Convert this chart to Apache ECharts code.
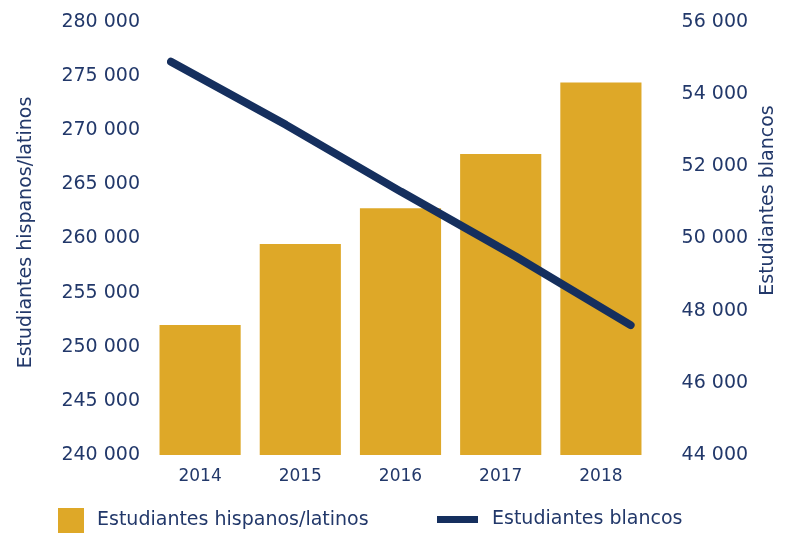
<!DOCTYPE html>
<html>
<head>
<meta charset="utf-8">
<script src="https://cdn.jsdelivr.net/npm/echarts@6/dist/echarts.min.js"></script>
<style>
  html, body { margin: 0; padding: 0; background: #fff; }
  #chart { width: 786px; height: 533px; }
</style>
</head>
<body>
<div id="chart"></div>
<script>
const years = ["2014", "2015", "2016", "2017", "2018"];
const hispanos = [252000, 259500, 262800, 267800, 274400];
const blancos = [54900, 53150, 51300, 49500, 47600];

const textColor = "#22386a";
const barColor = "#dea828";
const lineColor = "#152f5e";
const fontFamily = "DejaVu Sans";

// 280 000 style
const fmt = (v) => String(v).replace(/\B(?=(\d{3})+(?!\d))/g, " ");

const chart = echarts.init(document.getElementById("chart"));

chart.setOption({
  animation: false,
  textStyle: { fontFamily: fontFamily, color: textColor },
  grid: [
    { left: 150, right: 135, top: 22, bottom: 78 },
    { left: 171, right: 154, top: 22, bottom: 78 }, // line sits a bit inside the bars
  ],
  legend: [
    {
      data: [{ name: "Estudiantes hispanos/latinos", icon: "rect" }],
      left: 58,
      top: 508,
      padding: 0,
      itemWidth: 26,
      itemHeight: 25,
      textStyle: { fontSize: 19, color: textColor, fontFamily: fontFamily, padding: [0, 0, 0, 8] },
    },
    {
      data: [{ name: "Estudiantes blancos", icon: "rect" }],
      left: 437,
      top: 510,
      padding: 0,
      itemWidth: 41,
      itemHeight: 7,
      textStyle: { fontSize: 19, color: textColor, fontFamily: fontFamily, padding: [0, 0, 0, 9] },
    },
  ],
  xAxis: [
    {
      type: "category",
      gridIndex: 0,
      data: years,
      axisLine: { show: false },
      axisTick: { show: false },
      axisLabel: { fontSize: 17, color: textColor, margin: 13 },
    },
    {
      type: "category",
      gridIndex: 1,
      data: years,
      boundaryGap: false,
      show: false,
    },
  ],
  yAxis: [
    {
      type: "value",
      gridIndex: 0,
      min: 240000,
      max: 280000,
      interval: 5000,
      name: "Estudiantes hispanos/latinos",
      nameLocation: "middle",
      nameGap: 114,
      nameTextStyle: { fontSize: 19, color: textColor, padding: [0, 0, 0, 12] },
      splitLine: { show: false },
      axisLine: { show: false },
      axisTick: { show: false },
      axisLabel: { fontSize: 19, color: textColor, margin: 10, formatter: fmt },
    },
    {
      type: "value",
      gridIndex: 1,
      position: "right",
      min: 44000,
      max: 56000,
      interval: 2000,
      name: "Estudiantes blancos",
      nameLocation: "middle",
      nameGap: 126,
      nameTextStyle: { fontSize: 19, color: textColor, padding: [0, 0, 0, 76] },
      splitLine: { show: false },
      axisLine: { show: false },
      axisTick: { show: false },
      axisLabel: { fontSize: 19, color: textColor, margin: 51, formatter: fmt },
    },
  ],
  series: [
    {
      name: "Estudiantes hispanos/latinos",
      type: "bar",
      xAxisIndex: 0,
      yAxisIndex: 0,
      data: hispanos,
      barWidth: "81%",
      itemStyle: { color: barColor },
    },
    {
      name: "Estudiantes blancos",
      type: "line",
      xAxisIndex: 1,
      yAxisIndex: 1,
      data: blancos,
      symbol: "none",
      lineStyle: { color: lineColor, width: 8, cap: "round" },
      itemStyle: { color: lineColor },
    },
  ],
});
</script>
</body>
</html>
